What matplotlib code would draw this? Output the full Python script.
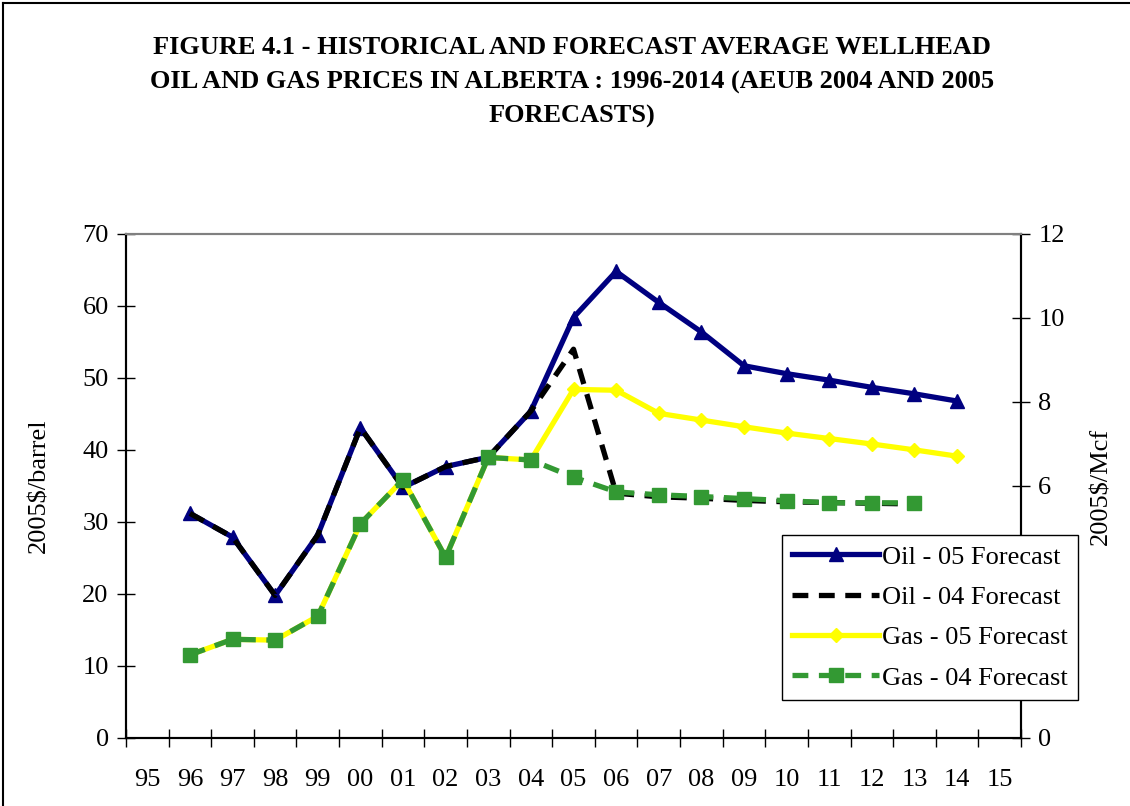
import matplotlib
matplotlib.use("Agg")
import matplotlib.pyplot as plt
from matplotlib.lines import Line2D

plt.rcParams['font.family'] = ['Liberation Serif', 'DejaVu Serif']

categories = ['95', '96', '97', '98', '99', '00', '01', '02', '03', '04',
              '05', '06', '07', '08', '09', '10', '11', '12', '13', '14', '15']

years_05 = ['96', '97', '98', '99', '00', '01', '02', '03', '04', '05',
            '06', '07', '08', '09', '10', '11', '12', '13', '14']
years_04 = ['96', '97', '98', '99', '00', '01', '02', '03', '04', '05',
            '06', '07', '08', '09', '10', '11', '12', '13']

oil_05 = [31.2, 27.9, 19.8, 28.2, 43.1, 34.8, 37.7, 39.0, 45.4, 58.4,
          64.8, 60.5, 56.4, 51.7, 50.6, 49.7, 48.7, 47.8, 46.8]
oil_04 = [31.2, 27.9, 19.8, 28.2, 43.1, 34.8, 37.7, 39.0, 45.4, 54.0,
          34.0, 33.5, 33.3, 33.0, 32.8, 32.7, 32.6, 32.5]
gas_05 = [1.98, 2.35, 2.33, 2.90, 5.10, 6.15, 4.30, 6.68, 6.62, 8.30,
          8.28, 7.73, 7.57, 7.41, 7.26, 7.13, 7.00, 6.86, 6.71]
gas_04 = [1.98, 2.35, 2.33, 2.90, 5.10, 6.15, 4.30, 6.68, 6.62, 6.21,
          5.86, 5.79, 5.75, 5.70, 5.65, 5.60, 5.60, 5.60]

left_ticks = [0, 10, 20, 30, 40, 50, 60, 70]
right_ticks = [0, 2, 4, 6, 8, 10, 12]
# labels 2 and 4 are hidden behind the legend in the reference
right_tick_labels = ['0', '', '', '6', '8', '10', '12']

series_labels = ['Oil - 05 Forecast', 'Oil - 04 Forecast',
                 'Gas - 05 Forecast', 'Gas - 04 Forecast']

title = ("FIGURE 4.1 - HISTORICAL AND FORECAST AVERAGE WELLHEAD\n"
         "OIL AND GAS PRICES IN ALBERTA : 1996-2014 (AEUB 2004 AND 2005\n"
         "FORECASTS)")

FS = 19
W, H = 1130, 806
fig = plt.figure(figsize=(W / 100, H / 100), dpi=100)
ax = fig.add_axes([126 / W, 1 - 738 / H, (1021 - 126) / W, (738 - 234) / H])
ax2 = ax.twinx()

x05 = [categories.index(y) for y in years_05]
x04 = [categories.index(y) for y in years_04]

lw = 3.8
ax.plot(x05, oil_05, color='#000080', lw=lw, marker='^', ms=10,
        mec='#000080', mfc='#000080', label=series_labels[0], zorder=3)
ax.plot(x04, oil_04, color='black', lw=lw, dashes=(3, 2),
        label=series_labels[1], zorder=4)
ax2.plot(x05, gas_05, color='#FFFF00', lw=lw, marker='D', ms=7,
         mec='#FFFF00', mfc='#FFFF00', label=series_labels[2], zorder=3)
ax2.plot(x04, gas_04, color='#339933', lw=lw, dashes=(3, 2), marker='s', ms=10,
         mec='#339933', mfc='#339933', label=series_labels[3], zorder=4)

ax.set_xlim(-0.5, len(categories) - 0.5)
ax.set_ylim(0, 70)
ax2.set_ylim(0, 12)
ax.set_yticks(left_ticks)
ax2.set_yticks(right_ticks)
ax2.set_yticklabels(right_tick_labels)

ax.set_xticks(range(len(categories)))
ax.set_xticklabels(categories)
ax.set_xticks([i - 0.5 for i in range(len(categories) + 1)], minor=True)
ax.tick_params(axis='x', which='major', length=0, pad=22, labelsize=FS)
ax.tick_params(axis='x', which='minor', direction='inout', length=13, width=1)
ax.tick_params(axis='y', direction='inout', length=13, width=1, pad=6, labelsize=FS)
ax2.tick_params(axis='y', direction='inout', length=13, width=1, pad=6, labelsize=FS)

for a in (ax, ax2):
    a.spines['left'].set_linewidth(1.5)
    a.spines['right'].set_linewidth(1.5)
    a.spines['bottom'].set_linewidth(1.5)
    a.spines['top'].set_color('#808080')
    a.spines['top'].set_linewidth(1.5)

fig.text(39 / W, 1 - 486 / H, '2005$/barrel', rotation=90, ha='center',
         va='center', fontsize=FS)
fig.text(1101 / W, 1 - 486 / H, '2005$/Mcf', rotation=90, ha='center',
         va='center', fontsize=FS)

fig.text(0.506, 1 - 82 / H, title, ha='center', va='center', fontsize=FS,
         fontweight='bold', linespacing=1.62)

h1, l1 = ax.get_legend_handles_labels()
h2, l2 = ax2.get_legend_handles_labels()
leg = fig.legend(h1 + h2, l1 + l2, loc='upper left',
                 bbox_to_anchor=(782 / W, 1 - 535 / H), borderaxespad=0,
                 fontsize=FS, frameon=True, fancybox=False, framealpha=1,
                 edgecolor='black', handlelength=3.3, handletextpad=0.1,
                 borderpad=0.38, labelspacing=0.64, numpoints=1)
leg.get_frame().set_linewidth(1.0)
leg.set_zorder(10)

# figure border (left and top visible)
fig.add_artist(Line2D([3 / W, 3 / W], [0, 1 - 3 / H], color='black', lw=1.5,
                      transform=fig.transFigure))
fig.add_artist(Line2D([3 / W, 1], [1 - 3 / H, 1 - 3 / H], color='black', lw=1.5,
                      transform=fig.transFigure))

fig.savefig('out.png', dpi=100)
